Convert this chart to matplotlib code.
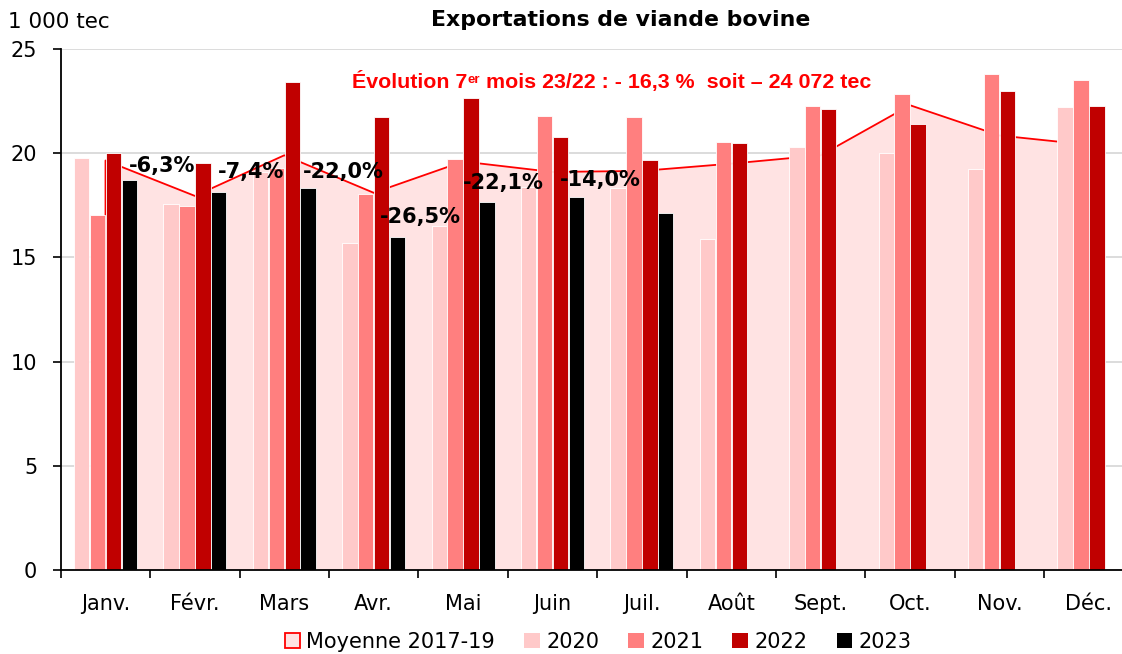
#!/usr/bin/env python3
"""
Exportations de viande bovine : monthly bars 2020-2023 over the 2017-19 average.
"""

import numpy as np
import matplotlib
matplotlib.use("Agg")
import matplotlib.pyplot as plt
from matplotlib.patches import Patch

matplotlib.rcParams.update({
    "font.family": "DejaVu Sans",
    "font.size": 15,
})

# --- data (1 000 tec) ---
months = ["Janv.", "Févr.", "Mars", "Avr.", "Mai", "Juin", "Juil.",
          "Août", "Sept.", "Oct.", "Nov.", "Déc."]
moyenne_2017_19 = [19.65, 17.95, 19.9, 18.1, 19.6, 19.1, 19.15,
                   19.5, 19.9, 22.3, 20.85, 20.4]
y2020 = [19.75, 17.58, 19.1, 15.68, 16.49, 18.4, 18.33,
         15.88, 20.28, 19.99, 19.23, 22.2]
y2021 = [17.03, 17.46, 19.28, 18.04, 19.72, 21.8, 21.74,
         20.56, 22.27, 22.84, 23.79, 23.5]
y2022 = [19.99, 19.52, 23.43, 21.74, 22.67, 20.78, 19.65,
         20.5, 22.13, 21.38, 23.0, 22.27]
y2023 = [18.72, 18.13, 18.33, 15.98, 17.68, 17.88, 17.15]
evol_23_22 = ["-6,3%", "-7,4%", "-22,0%", "-26,5%", "-22,1%", "-14,0%", None]

# label placement (category offset, y) for the 23/22 labels
lab_dx = [0.63, 0.63, 0.66, 0.52, 0.45, 0.53]
lab_y = [19.37, 19.1, 19.11, 16.94, 18.57, 18.71]

C_MOY_FILL = "#FFE3E3"
C_MOY_LINE = "#FF0000"
C_2020 = "#FFC9C9"
C_2021 = "#FF7F7F"
C_2022 = "#C00000"
C_2023 = "#000000"

fig = plt.figure(figsize=(11.22, 6.54), dpi=100)
# plot area runs slightly past the right edge, as in the source image
ax = fig.add_axes([60.8 / 1122, 1 - 570 / 654, 1072.8 / 1122, 521 / 654])

x = np.arange(len(months))
xs = np.r_[x[0], x, x[-1]]
ys = np.r_[0, moyenne_2017_19, 0]
ax.fill(xs, ys, facecolor=C_MOY_FILL, edgecolor="none", zorder=1)
ax.plot(xs, ys, color=C_MOY_LINE, linewidth=1.3, zorder=1.1)

w = 0.172
offs = [-0.267, -0.089, 0.089, 0.267]
for off, vals, col in zip(offs, [y2020, y2021, y2022, y2023],
                          [C_2020, C_2021, C_2022, C_2023]):
    xx = np.arange(len(vals)) + off
    ax.bar(xx, vals, width=w, color=col, edgecolor="white",
           linewidth=0.6, zorder=2)

for i, txt in enumerate(evol_23_22):
    if txt is None:
        continue
    ax.text(i + lab_dx[i], lab_y[i], txt, ha="center", va="center",
            fontsize=15, fontweight="bold", color="black", zorder=5)

# red summary line with superscript
red_kw = dict(color="#FF0000", fontweight="bold", family="Liberation Sans")
t1 = ax.text(2.757, 23.13, "Évolution 7", fontsize=15.4, ha="left",
             va="baseline", zorder=5, **red_kw)
sup = ax.annotate("er", xy=(1, 0.93), xycoords=t1, fontsize=9.5,
                  ha="left", va="top", zorder=5, **red_kw)
ax.annotate(" mois 23/22 : - 16,3 %  soit \u2013 24 072 tec", xy=(1, 23.13),
            xycoords=(sup, "data"), fontsize=15.4, ha="left", va="baseline",
            zorder=5, **red_kw)

ax.set_xlim(-0.5, len(months) - 0.5)
ax.set_ylim(0, 25)
ax.set_yticks([0, 5, 10, 15, 20, 25])
ax.set_xticks(x)
ax.set_xticklabels(months)
ax.set_xticks(np.arange(len(months) + 1) - 0.5, minor=True)
ax.tick_params(axis="x", which="major", length=0, pad=17, labelsize=15)
ax.tick_params(axis="x", which="minor", length=6, width=1.2, color="black")
ax.tick_params(axis="y", length=6, width=1.2, pad=11, labelsize=15)

ax.yaxis.grid(True, color="#D9D9D9", linewidth=1.3, zorder=0)
ax.set_axisbelow(True)
for s in ["top", "right"]:
    ax.spines[s].set_visible(False)
ax.spines["left"].set_linewidth(1.3)
ax.spines["bottom"].set_linewidth(1.3)

fig.text(8 / 1122, 1 - 22 / 654, "1 000 tec", fontsize=15.5,
         ha="left", va="center")
fig.text(621 / 1122, 1 - 20 / 654, "Exportations de viande bovine",
         fontsize=15.8, fontweight="bold", ha="center", va="center")

handles = [
    Patch(facecolor=C_MOY_FILL, edgecolor=C_MOY_LINE, linewidth=1.3,
          label="Moyenne 2017-19"),
    Patch(facecolor=C_2020, label="2020"),
    Patch(facecolor=C_2021, label="2021"),
    Patch(facecolor=C_2022, label="2022"),
    Patch(facecolor=C_2023, label="2023"),
]
fig.legend(handles=handles, loc="center", bbox_to_anchor=(598 / 1122, 1 - 642 / 654),
           ncol=5, frameon=False, fontsize=15, handlelength=0.75,
           handleheight=0.75, handletextpad=0.3, columnspacing=1.4)

fig.savefig("out.png", dpi=100)
